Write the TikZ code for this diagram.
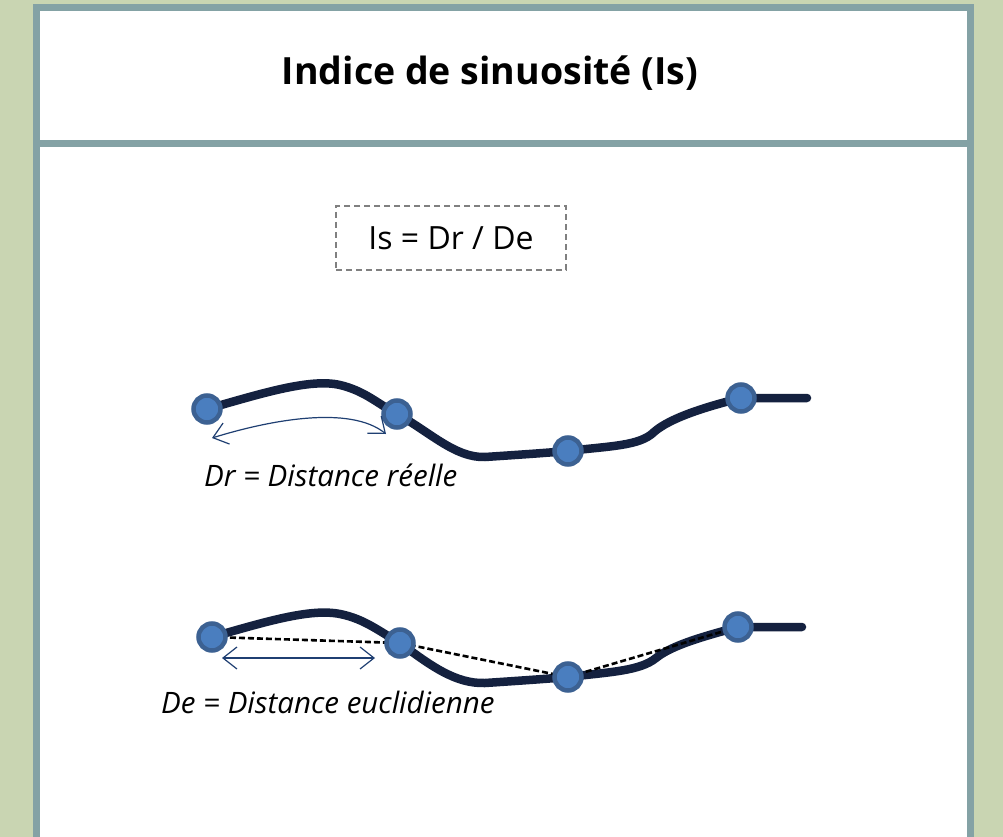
\documentclass[tikz,border=0pt]{standalone}
\usepackage{fontspec}
\setmainfont{Open Sans}
\usepackage{xcolor}
\usetikzlibrary{arrows.meta}

\definecolor{grass}{HTML}{C9D5B2}
\definecolor{frame}{HTML}{84A2A5}
\definecolor{river}{HTML}{14213F}
\definecolor{dotfill}{HTML}{4A7EBF}
\definecolor{dotring}{HTML}{3C6192}
\definecolor{arrowblue}{HTML}{1F3F72}

\tikzset{
  riverline/.style={draw=river,line width=8.5pt,line cap=round,line join=round},
  station/.style={circle,fill=dotfill,draw=dotring,line width=4.5pt,minimum size=27pt,inner sep=0pt},
  chord/.style={draw=black,line width=2.6pt,dash pattern=on 6pt off 3pt},
  measure/.style={draw=arrowblue,line width=1.2pt,{Straight Barb[length=14pt,width=22pt,line width=1.2pt]}-{Straight Barb[length=14pt,width=22pt,line width=1.2pt]}},
  legend/.style={font=\fontsize{29.5}{32}\selectfont\itshape,inner sep=0pt}
}

\begin{document}
\begin{tikzpicture}[x=1pt,y=-1pt]
    % background and panel
    \fill[grass] (0,0) rectangle (1003,837);
    \useasboundingbox (0,0) rectangle (1003,837);
    \fill[white] (36.5,7.5) rectangle (970.5,837);
    \draw[frame,line width=7pt] (36.5,840) -- (36.5,7.5) -- (970.5,7.5) -- (970.5,840);
    \draw[frame,line width=7pt] (33,143.5) -- (974,143.5);
    \node[font=\fontsize{37.5}{40}\selectfont\bfseries] (title) at (490,73) {Indice de sinuosité (Is)};

    % formula
    \node[draw=gray,line width=2pt,dash pattern=on 6pt off 4pt,minimum width=230pt,minimum height=64pt,
          font=\fontsize{32}{34}\selectfont] (formula) at (451,238) {Is = Dr / De};

    % real distance
    \coordinate (a1) at (207,409);
    \coordinate (b1) at (397,414);
    \coordinate (c1) at (568,451);
    \coordinate (d1) at (741,398);
    \draw[riverline] (a1) .. controls (260,394) and (310,378) .. (340,385)
      .. controls (365,391) and (378,404) .. (b1)
      .. controls (430,432) and (455,458) .. (485,457)
      .. controls (515,455) and (545,453) .. (c1)
      .. controls (610,446) and (640,446) .. (654,432)
      .. controls (670,418) and (705,407) .. (d1) -- (807,398);
    \node[station] (s1) at (a1) {};
    \node[station] (s2) at (b1) {};
    \node[station] (s3) at (c1) {};
    \node[station] (s4) at (d1) {};
    \coordinate (drl) at (212,438);
    \coordinate (drr) at (386,434);
    \draw[measure] (drl) .. controls (270,420) and (350,405) .. (drr);
    \node[legend,anchor=base west] (dr) at (204,486) {Dr = Distance réelle};

    % euclidean distance
    \coordinate (a2) at (212,637);
    \coordinate (b2) at (400,643);
    \coordinate (c2) at (568,677);
    \coordinate (d2) at (738,627);
    \draw[riverline] (a2) .. controls (265,622) and (310,608) .. (340,614)
      .. controls (365,619) and (380,632) .. (b2)
      .. controls (430,665) and (455,684) .. (485,683)
      .. controls (515,681) and (545,679) .. (c2)
      .. controls (610,672) and (640,671) .. (656,658)
      .. controls (672,645) and (705,636) .. (d2) -- (802,627);
    \draw[chord] (a2) -- (b2) -- (c2) -- (d2);
    \node[station] (e1) at (a2) {};
    \node[station] (e2) at (b2) {};
    \node[station] (e3) at (c2) {};
    \node[station] (e4) at (d2) {};
    \coordinate (del) at (222,658);
    \coordinate (der) at (375,658);
    \draw[measure] (del) -- (der);
    \node[legend,anchor=base west] (de) at (161,713) {De = Distance euclidienne};
\end{tikzpicture}
\end{document}
